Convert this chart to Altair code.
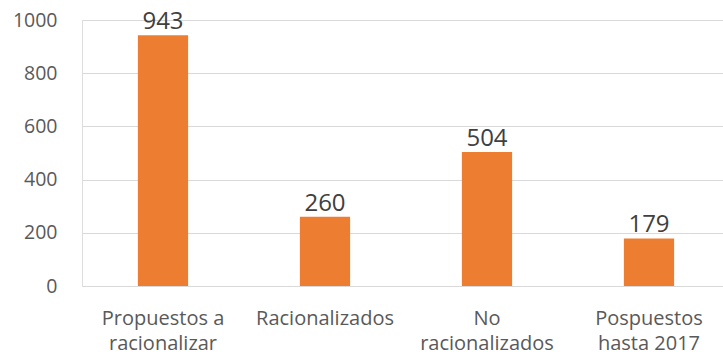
import altair as alt
import pandas as pd

# Categories (line breaks mark where the axis labels wrap) and their counts
categorias = ["Propuestos a\nracionalizar", "Racionalizados", "No\nracionalizados", "Pospuestos\nhasta 2017"]
valores = [943, 260, 504, 179]

df = pd.DataFrame({"categoria": categorias, "valor": valores})

FONT = "Open Sans"

x = alt.X(
    "categoria:N",
    sort=categorias,
    title=None,
    scale=alt.Scale(range=[0, 648], paddingInner=0.69, paddingOuter=0.345),
    axis=alt.Axis(
        labelAngle=0,
        labelExpr="split(datum.label, '\\n')",
        labelFont=FONT,
        labelFontSize=20,
        labelColor="#595959",
        labelLineHeight=25,
        labelPadding=22,
        labelBaseline="top",
        ticks=False,
        domain=False,
        grid=False,
    ),
)

y = alt.Y(
    "valor:Q",
    title=None,
    scale=alt.Scale(domain=[0, 1000], nice=False),
    axis=alt.Axis(
        values=[0, 200, 400, 600, 800, 1000],
        format="d",
        labelFont=FONT,
        labelFontSize=19.5,
        labelColor="#595959",
        labelPadding=25,
        ticks=False,
        domain=False,
        grid=True,
        gridColor="#d9d9d9",
        gridWidth=1.2,
    ),
)

bars = alt.Chart(df).mark_bar(color="#ED7D31").encode(x=x, y=y)

labels = alt.Chart(df).mark_text(
    font=FONT, fontSize=24, color="#404040", baseline="bottom", dy=-1
).encode(x=x, y=y, text="valor:Q")

chart = (
    alt.layer(bars, labels)
    .properties(
        width=641,
        height=266,
        autosize=alt.AutoSizeParams(type="none"),
        padding={"left": 82, "top": 20, "right": 0, "bottom": 70},
    )
    .configure_view(stroke=None)
    .configure(background="white")
)

chart.save("out.html", embed_options={"renderer": "svg", "actions": False})
